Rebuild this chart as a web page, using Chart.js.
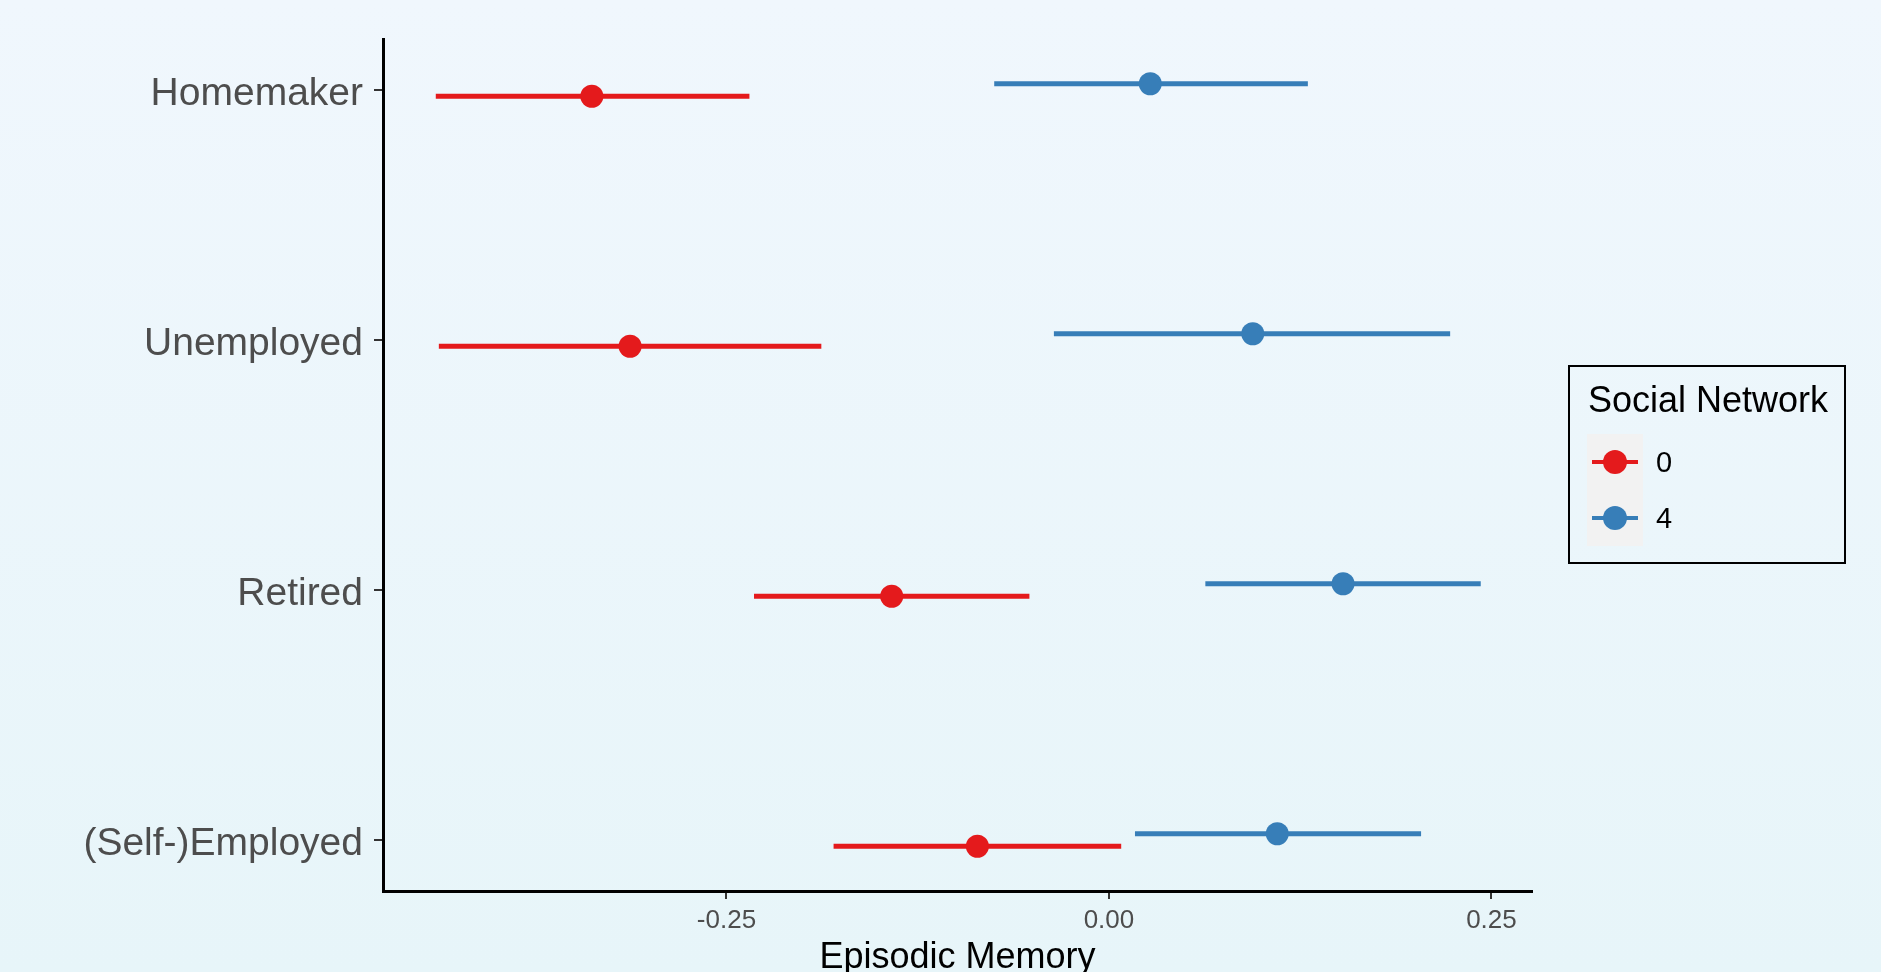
<!DOCTYPE html>
<html>
<head>
<meta charset="utf-8">
<script src="https://cdn.jsdelivr.net/npm/chart.js@4.4.1/dist/chart.umd.min.js"></script>
<style>
  html, body { margin: 0; padding: 0; width: 1881px; height: 972px; overflow: hidden; }
  body {
    background: linear-gradient(to bottom, #f0f7fd 0%, #e7f5f9 100%);
    font-family: "Liberation Sans", Arial, sans-serif;
  }
  #chart { position: absolute; left: 0; top: 0; }
  #legend {
    position: absolute; left: 1568px; top: 365px;
    width: 274px; height: 195px; border: 2px solid #000;
  }
  #legend .title {
    position: absolute; left: 18px; top: 15px;
    font-size: 36px; line-height: 36px; color: #000; white-space: nowrap;
  }
  #legend .key {
    position: absolute; left: 17px; width: 56px; height: 56px; background: #f2f2f2;
  }
  #legend .key .seg {
    position: absolute; left: 5px; top: 26px; width: 46px; height: 4px;
  }
  #legend .key .dot {
    position: absolute; left: 16px; top: 16px; width: 24px; height: 24px; border-radius: 50%;
  }
  #legend .lab {
    position: absolute; left: 86px; height: 56px; line-height: 56px;
    font-size: 29px; color: #000;
  }
</style>
</head>
<body>
<canvas id="chart" width="1881" height="972"></canvas>
<div id="legend"></div>
<script>
// Employment status categories, top to bottom
const categories = ['Homemaker', 'Unemployed', 'Retired', '(Self-)Employed'];

// Social network size groups
const legendTitle = 'Social Network';
const seriesNames = ['0', '4'];
const seriesColors = ['#E41A1C', '#377EB8'];

// Estimated episodic memory with 95% interval, social network = 0
const est0 = [-0.338, -0.313, -0.142, -0.086];
const lo0  = [-0.440, -0.438, -0.232, -0.180];
const hi0  = [-0.235, -0.188, -0.052,  0.008];

// Estimated episodic memory with 95% interval, social network = 4
const est4 = [0.027, 0.094, 0.153, 0.110];
const lo4  = [-0.075, -0.036, 0.063, 0.017];
const hi4  = [0.130, 0.223, 0.243, 0.204];

// x-axis tick values
const xTicks = [-0.25, 0, 0.25];

const FONT = '"Liberation Sans", Arial, sans-serif';
Chart.defaults.font.family = FONT;

// vertical dodge of the two groups within a category
const dodge = [0.025, -0.025];

const groups = [
  { est: est0, lo: lo0, hi: hi0 },
  { est: est4, lo: lo4, hi: hi4 }
];

const datasets = [];
groups.forEach((g, gi) => {
  // interval segments
  g.est.forEach((v, i) => {
    datasets.push({
      label: seriesNames[gi] + ' interval ' + categories[i],
      data: [{ x: g.lo[i], y: i + dodge[gi] }, { x: g.hi[i], y: i + dodge[gi] }],
      showLine: true,
      borderColor: seriesColors[gi],
      borderWidth: 5,
      borderCapStyle: 'butt',
      pointRadius: 0,
      pointHoverRadius: 0,
      order: 2
    });
  });
  // point estimates
  datasets.push({
    label: seriesNames[gi],
    data: g.est.map((v, i) => ({ x: v, y: i + dodge[gi] })),
    backgroundColor: seriesColors[gi],
    borderWidth: 0,
    pointRadius: 11.5,
    pointHoverRadius: 11.5,
    order: 1
  });
});

new Chart(document.getElementById('chart'), {
  type: 'scatter',
  data: { datasets },
  options: {
    responsive: false,
    devicePixelRatio: 1,
    animation: false,
    events: [],
    layout: { padding: { top: 39, right: 349, bottom: 0, left: 0 } },
    plugins: { legend: { display: false }, tooltip: { enabled: false } },
    scales: {
      x: {
        type: 'linear',
        position: 'bottom',
        min: -0.4745,
        max: 0.2765,
        afterBuildTicks: s => { s.ticks = xTicks.map(v => ({ value: v })); },
        afterFit: s => { s.height = 81; },
        ticks: {
          callback: v => Number(v).toFixed(2),
          color: '#4d4d4d',
          font: { size: 26 },
          padding: 6,
          maxRotation: 0,
          autoSkip: false
        },
        grid: { drawOnChartArea: false, drawTicks: true, tickLength: 8, color: '#333333', lineWidth: 2 },
        border: { display: true, color: '#000000', width: 3 },
        title: {
          display: true,
          text: 'Episodic Memory',
          color: '#000000',
          font: { size: 36, lineHeight: 0.75 },
          padding: { top: 0, bottom: 0 }
        }
      },
      y: {
        type: 'linear',
        reverse: true,
        min: -0.204,
        max: 3.204,
        afterBuildTicks: s => { s.ticks = categories.map((c, i) => ({ value: i })); },
        afterFit: s => { s.width = 383; },
        ticks: {
          callback: v => categories[v],
          color: '#4d4d4d',
          font: { size: 39 },
          padding: 11,
          labelOffset: 4,
          autoSkip: false
        },
        grid: { drawOnChartArea: false, drawTicks: true, tickLength: 9, color: '#333333', lineWidth: 2 },
        border: { display: true, color: '#000000', width: 3 }
      }
    }
  }
});

// Legend box
const legend = document.getElementById('legend');
const t = document.createElement('div');
t.className = 'title';
t.textContent = legendTitle;
legend.appendChild(t);
seriesNames.forEach((name, i) => {
  const top = 67 + i * 56;
  const key = document.createElement('div');
  key.className = 'key';
  key.style.top = top + 'px';
  const seg = document.createElement('div');
  seg.className = 'seg';
  seg.style.background = seriesColors[i];
  const dot = document.createElement('div');
  dot.className = 'dot';
  dot.style.background = seriesColors[i];
  key.appendChild(seg);
  key.appendChild(dot);
  legend.appendChild(key);
  const lab = document.createElement('div');
  lab.className = 'lab';
  lab.style.top = top + 'px';
  lab.textContent = name;
  legend.appendChild(lab);
});
</script>
</body>
</html>
